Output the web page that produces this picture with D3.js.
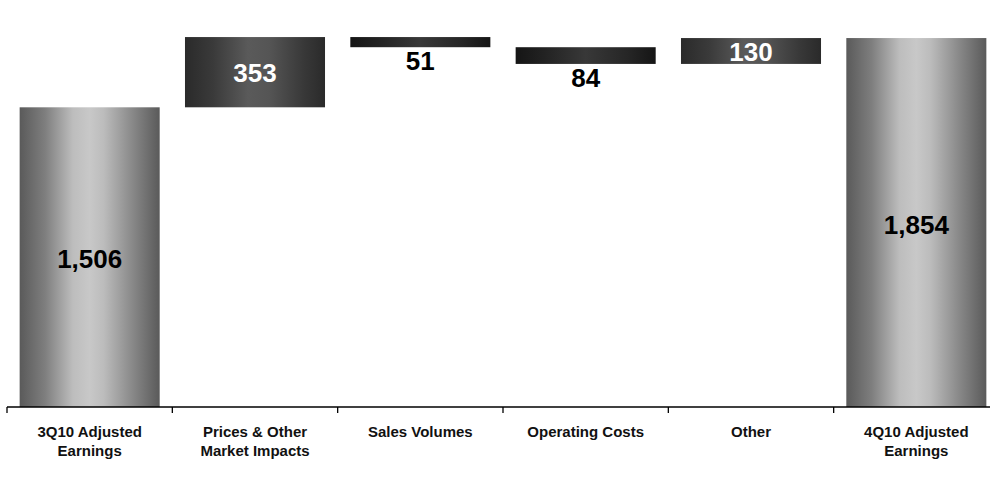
<!DOCTYPE html>
<html>
<head>
<meta charset="utf-8">
<script src="https://cdn.jsdelivr.net/npm/d3@7"></script>
<style>
  html, body { margin: 0; padding: 0; background: #fff; }
  svg { display: block; font-family: "Liberation Sans", Arial, sans-serif; }
</style>
</head>
<body>
<svg id="chart" width="990" height="480"></svg>
<script>
// Earnings bridge, 3Q10 to 4Q10 (millions)
const categories = [
  ["3Q10 Adjusted", "Earnings"],
  ["Prices & Other", "Market Impacts"],
  ["Sales Volumes"],
  ["Operating Costs"],
  ["Other"],
  ["4Q10 Adjusted", "Earnings"]
];
// kind: "total" bars start at zero, "delta" bars float on the running sum
const kinds   = ["total", "delta", "delta", "delta", "delta", "total"];
const changes = [1506, 353, -51, -84, 130, 1854];
const labels  = ["1,506", "353", "51", "84", "130", "1,854"];

const svg = d3.select("#chart");
const defs = svg.append("defs");

function hGradient(id, stops) {
  const g = defs.append("linearGradient").attr("id", id)
    .attr("x1", "0%").attr("x2", "100%").attr("y1", "0%").attr("y2", "0%");
  stops.forEach(([o, c]) => g.append("stop").attr("offset", o).attr("stop-color", c));
}
hGradient("gTotal", [[0, "#5a5a5a"], [0.18, "#7e7e7e"], [0.38, "#bdbdbd"], [0.5, "#c8c8c8"], [0.6, "#bcbcbc"], [0.82, "#858585"], [1, "#5a5a5a"]]);
hGradient("gUp",    [[0, "#2a2a2a"], [0.2, "#3a3a3a"], [0.45, "#5a5a5a"], [0.6, "#555555"], [0.85, "#383838"], [1, "#2a2a2a"]]);
hGradient("gDown",  [[0, "#151515"], [0.2, "#222222"], [0.5, "#383838"], [0.8, "#262626"], [1, "#151515"]]);

// Build floating segments from the running total
let run = 0;
const bars = changes.map((v, i) => {
  let y0, y1;
  if (kinds[i] === "total") { y0 = 0; y1 = v; run = v; }
  else { y0 = run; y1 = run + v; run = y1; }
  return { i, lo: Math.min(y0, y1), hi: Math.max(y0, y1), v, kind: kinds[i] };
});

const x = d3.scaleBand()
  .domain(d3.range(categories.length))
  .range([7, 999])
  .paddingInner(0.153)
  .paddingOuter(0.0765);

const y = d3.scaleLinear().domain([0, 2000]).range([407, 9]);

const fillFor = b => b.kind === "total" ? "url(#gTotal)" : (b.v >= 0 ? "url(#gUp)" : "url(#gDown)");

svg.append("g").selectAll("rect").data(bars).join("rect")
  .attr("x", b => x(b.i))
  .attr("width", x.bandwidth())
  .attr("y", b => y(b.hi))
  .attr("height", b => y(b.lo) - y(b.hi))
  .attr("fill", fillFor);

// Value labels
svg.append("g").selectAll("text").data(bars).join("text")
  .attr("x", b => x(b.i) + x.bandwidth() / 2)
  .attr("y", b => {
    if (b.kind === "total") return (y(b.lo) + y(b.hi)) / 2 + 11;
    if (b.v >= 0) return (y(b.lo) + y(b.hi)) / 2 + 10;
    return y(b.lo) + 23;
  })
  .attr("text-anchor", "middle")
  .attr("font-size", 26)
  .attr("font-weight", "bold")
  .attr("fill", b => (b.kind === "delta" && b.v >= 0) ? "#ffffff" : "#000000")
  .text(b => labels[b.i]);

// Category axis: baseline with ticks on band boundaries
const axis = svg.append("g");
const step = x.step();
const x0 = x.range()[0];
axis.append("line")
  .attr("x1", x0).attr("x2", x.range()[1])
  .attr("y1", y(0)).attr("y2", y(0))
  .attr("stroke", "#000").attr("stroke-width", 1.3);
d3.range(categories.length + 1).forEach(k => {
  axis.append("line")
    .attr("x1", x0 + k * step).attr("x2", x0 + k * step)
    .attr("y1", y(0)).attr("y2", y(0) + 6)
    .attr("stroke", "#000").attr("stroke-width", 1.3);
});

const lab = axis.selectAll("text.cat").data(categories).join("text")
  .attr("class", "cat")
  .attr("x", (d, i) => x(i) + x.bandwidth() / 2)
  .attr("y", 437)
  .attr("text-anchor", "middle")
  .attr("font-size", 15)
  .attr("font-weight", "bold")
  .attr("fill", "#111");
lab.selectAll("tspan").data(d => d).join("tspan")
  .attr("x", function () { return d3.select(this.parentNode).attr("x"); })
  .attr("dy", (d, j) => j === 0 ? 0 : 19)
  .text(d => d);
</script>
</body>
</html>
